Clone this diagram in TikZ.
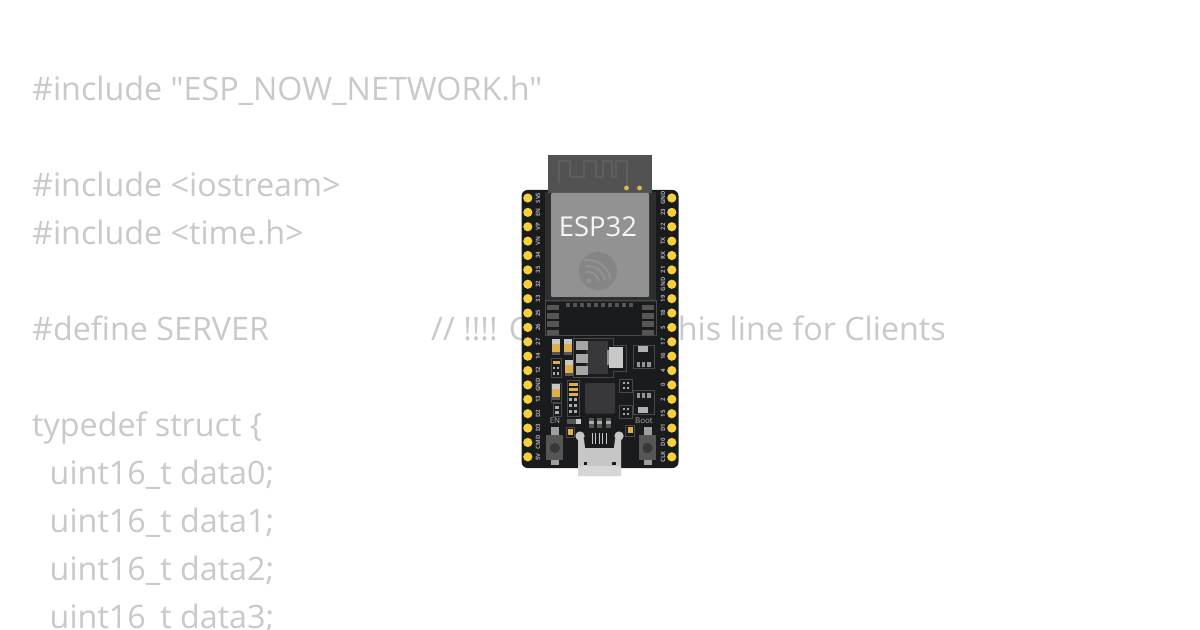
\documentclass[tikz,border=0pt]{standalone}
\usepackage{fontspec}
\setmainfont{Open Sans}
\newfontfamily\codefont{Open Sans}
\definecolor{codegray}{HTML}{C9C9C9}
\definecolor{boardblk}{HTML}{1A1B1D}
\definecolor{pinyel}{HTML}{F7D13A}
\definecolor{antgray}{HTML}{525252}
\definecolor{anttrace}{HTML}{5E5E5E}
\definecolor{modgray}{HTML}{929292}
\definecolor{logogray}{HTML}{858585}
\definecolor{shield}{HTML}{2E2F31}
\definecolor{padgray}{HTML}{565656}
\definecolor{outlgray}{HTML}{48494B}
\definecolor{silk}{HTML}{ABABAB}
\definecolor{icgray}{HTML}{38383A}
\definecolor{smdgold}{HTML}{DDB04A}
\definecolor{capgray}{HTML}{C8C8C8}
\definecolor{usbsilver}{HTML}{C6C6C6}
\definecolor{usbfront}{HTML}{D6D6D6}
\tikzset{
 codeline/.style={anchor=base west,inner sep=0pt,text=codegray,font=\codefont\fontsize{32.4}{32.4}\selectfont},
 pinlabel/.style={text=silk,font=\bfseries\fontsize{6}{6}\selectfont,inner sep=0pt,rotate=90},
 outl/.style={draw=outlgray,line width=.7bp,fill=none},
 pad/.style={fill=padgray},
}
\newcommand{\smdpart}[2]{% centre, vertical resistor
 \begin{scope}[shift={(#1,#2)}]
 \fill[capgray] (-4,-8) rectangle (4,8);
 \fill[smdgold] (-4,-3) rectangle (4,5);
 \fill[padgray] (-4,5) rectangle (4,8);
 \end{scope}}
\begin{document}
\begin{tikzpicture}[x=1bp,y=-1bp]
\useasboundingbox (0,0) rectangle (1200,630);
\fill[white] (0,0) rectangle (1200,630);
% code text
\node[codeline] (l1) at (32,100.6) {\#include "ESP\_NOW\_NETWORK.h"};
\node[codeline] (l2) at (32,196.6) {\#include <iostream>};
\node[codeline] (l3) at (32,244.6) {\#include <time.h>};
\node[codeline] (l4) at (32,340.6) {\#define SERVER};
\node[codeline] (l4b) at (431,340.6) {// !!!! Comment this line for Clients};
\node[codeline] (l5) at (32,436) {typedef struct \{};
\node[codeline] (l6) at (49.5,484) {uint16\_t data0;};
\node[codeline] (l7) at (49.5,532) {uint16\_t data1;};
\node[codeline] (l8) at (49.5,580) {uint16\_t data2;};
\node[codeline] (l9) at (49.5,628) {uint16\_t data3;};
% board
\fill[boardblk,rounded corners=6bp] (521.5,190) rectangle (678.5,468);
% pins
\foreach \i in {0,...,18}{
 \fill[pinyel] (527.8,198+14.38*\i) circle (4.6);
 \fill[pinyel] (671.8,198+14.38*\i) circle (4.6);
}
\foreach \t [count=\i from 0] in {SVS,EN,VP,VN,34,35,32,33,25,26,27,14,12,GND,13,D2,D3,CMD,5V}
 \node[pinlabel] at (538,198+14.38*\i) {\t};
\foreach \t [count=\i from 0] in {GND,23,22,TX,RX,21,GND,19,18,5,17,16,4,0,2,15,D1,D0,CLK}
 \node[pinlabel] at (663,198+14.38*\i) {\t};
% module carrier
\fill[shield] (545,192) rectangle (656,302);
\draw[outlgray,line width=.6bp] (545,300) rectangle (656,335);
\fill[boardblk] (560,303) rectangle (640,335);
\fill[antgray] (548,155) rectangle (652,193);
\draw[anttrace,line width=2bp] (558.5,183) -- (558.5,161.5) -- (570,161.5) -- (570,177) -- (584,177) -- (584,161.5) -- (596,161.5) -- (596,177) -- (603,177) -- (603,161.5) -- (612,161.5) -- (612,177) -- (616,177) -- (616,161.5) -- (627,161.5) -- (627,187);
\fill[pinyel!75!gray] (626.5,188) circle (2.4);
\fill[pinyel!75!gray] (639.5,188) circle (2.4);
\fill[modgray,rounded corners=1bp] (551,193) rectangle (649,297);
\node[inner sep=0pt,text=white!92!modgray,font=\fontsize{27.5}{27.5}\selectfont] (esp) at (598,227) {ESP32};
% espressif logo
\fill[logogray] (598,271) circle (19);
\begin{scope}
\clip (598,271) circle (19);
\foreach \r in {11,17,23}
 \draw[modgray,line width=2bp] (588,283) ++(-10:\r) arc (-10:-100:\r);
\end{scope}
\fill[modgray] (589,281) circle (2.6);
% module castellations
\foreach \i in {0,...,9}
 \fill[padgray] (565.5+7*\i,303) rectangle ++(4.5,4.5);
\foreach \i in {0,...,3}{
 \fill[padgray] (546.5,305+8.2*\i) rectangle ++(12,5.5);
 \fill[padgray] (642,305+8.2*\i) rectangle ++(12,5.5);
}
% regulator
\draw[outl] (573,338) -- (613,338) -- (613,345) -- (626,345) -- (626,371) -- (613,371) -- (613,377) -- (573,377) -- cycle;
\fill[icgray] (586,341) rectangle (608,374);
\foreach \y in {341,354,366}{\fill[capgray!70!padgray] (576,\y) rectangle (588,\y+9);}
\fill[capgray] (609,347) rectangle (623,368);
\fill[capgray!50!padgray] (607,350) rectangle (609,365);
% smd
\smdpart{556}{347}
\smdpart{568}{347}
\smdpart{569}{368}
\smdpart{555.5}{392}
\draw[outl] (551,358) rectangle (561,377);
\fill[smdgold] (552.5,360.5) rectangle (559.5,364);
\foreach \x in {554,558} {\fill[silk] (\x-1.4,366.5) rectangle (\x+1.4,369); \fill[silk] (\x-1.4,372) rectangle (\x+1.4,374.5);}
\draw[outl] (551,383) rectangle (561,402);
\draw[outl] (553,403) rectangle (561,416);
\fill[silk] (555,406) rectangle (559,408.5); \fill[silk] (555,411) rectangle (559,413.5);
% resistor array
\draw[outl] (567,380) rectangle (579,416);
\foreach \y in {382.5,387.5,392.5}{\fill[smdgold] (568.5,\y) rectangle (577.5,\y+3.2);}
\foreach \y in {398,404,410}{\fill[silk] (569,\y) rectangle (572,\y+3.2);\fill[silk] (574,\y) rectangle (577,\y+3.2);}
% mcu
\fill[icgray,rounded corners=1bp] (585,383) rectangle (615,413.5);
% small sot parts
\draw[outl] (633,345) rectangle (654,368);
\fill[capgray!80!padgray] (638,346) rectangle (648,352);
\foreach \x in {636.5,641.8,647}{\fill[capgray!55!padgray] (\x,361.5) rectangle ++(3.6,5);}
\draw[outl] (633,390) rectangle (654,414);
\fill[capgray!80!padgray] (638,407) rectangle (648,413);
\foreach \x in {636.5,641.8,647}{\fill[capgray!55!padgray] (\x,393) rectangle ++(3.6,5);}
\draw[outl] (619,379) rectangle (632,392);
\draw[outl] (619,405) rectangle (632,418);
\foreach \y in {381.5,387,407.5,413}{\fill[silk] (622.5,\y) rectangle ++(2.2,2.4); \fill[silk] (626.5,\y) rectangle ++(2.2,2.4);}
% EN / Boot labels
\node[inner sep=0pt,text=silk,font=\fontsize{8}{8}\selectfont] (en) at (555,420.7) {EN};
\node[inner sep=0pt,text=silk,font=\fontsize{8}{8}\selectfont] (boot) at (644,420.7) {Boot};
% buttons
\foreach \x in {554.8,647.5}{
 \fill[capgray!65!padgray] (\x-4,427) rectangle (\x+4,465);
 \fill[padgray] (\x-8.5,435) rectangle (\x+8.5,460);
 \fill[icgray] (\x,448) circle (5.2);
}
% leds
\draw[outl] (566,427) rectangle (574,437);
\fill[smdgold] (567.5,429) rectangle (572.5,435);
\draw[outl] (625.5,425) rectangle (634.5,436);
\fill[smdgold] (627.5,427) rectangle (632.5,433);
\fill[padgray] (566.5,418.5) rectangle (581,423.5);
\fill[capgray] (576,418.5) rectangle (581,423.5);
% usb
\foreach \x in {591,599.5,608}{
 \fill[padgray] (\x-2.5,418) rectangle (\x+2.5,428);
 \fill[silk] (\x-2.5,421) rectangle (\x+2.5,424);
}
\foreach \i in {0,...,4}\fill[capgray] (591.5+3.6*\i,433) rectangle ++(1.1,10.5);
\fill[usbsilver] (578,439) -- (584,439) -- (585,448) -- (614,448) -- (615,439) -- (621,439) -- (621,476) -- (578,476) -- cycle;
\fill[usbfront] (578,466) rectangle (621,476);
\fill[usbsilver] (580,436) circle (4.6);
\fill[usbsilver] (619,436) circle (4.6);
\fill[boardblk] (583.5,461.5) rectangle ++(3.5,3.5);
\fill[boardblk] (612,461.5) rectangle ++(3.5,3.5);
\end{tikzpicture}
\end{document}
